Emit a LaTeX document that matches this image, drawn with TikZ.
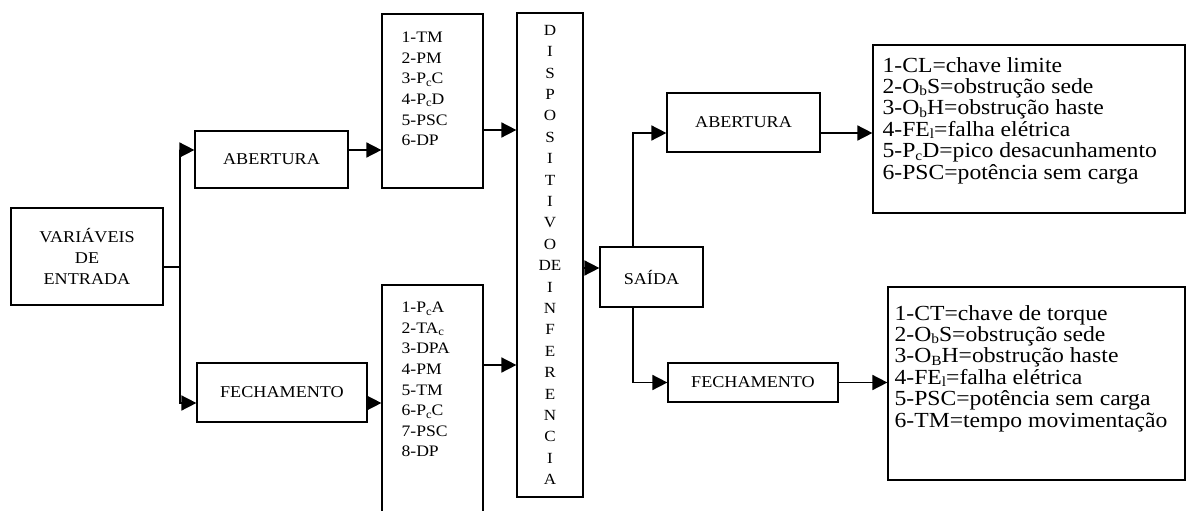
\documentclass[tikz,border=0pt]{standalone}
\usepackage{fontspec}
\setmainfont[FakeStretch=1.1]{Liberation Serif}
\usepackage{tikz}
\usetikzlibrary{positioning,arrows.meta}
\newcommand{\sbx}[2][11.5]{\raisebox{-2.5pt}{\fontsize{#1}{#1}\selectfont #2}}
\tikzset{
  blk/.style={draw, line width=1.2pt, inner sep=0pt, align=center, font=\fontsize{16.5}{21}\selectfont},
  lstbox/.style={draw, line width=1.2pt, inner sep=0pt},
  lsttxt/.style={inner sep=0pt, align=left, font=\fontsize{16}{20.6}\selectfont},
  outtxt/.style={inner sep=0pt, align=left, font=\fontsize{21.5}{21.4}\selectfont},
  inftxt/.style={inner sep=0pt, align=center, font=\fontsize{15.5}{21.4}\selectfont},
  arrow/.style={-{Triangle[length=15pt,width=15pt]}, line width=1.6pt},
  wire/.style={line width=1.6pt}
}

\begin{document}
\begin{tikzpicture}[x=1pt, y=-1pt]
  \useasboundingbox (0,0) rectangle (1188,511);
  % entrada e ramos
  \node[blk, minimum width=152pt, minimum height=97pt] (entrada) at (87,256.5) {VARIÁVEIS\\DE\\ENTRADA};
  \node[blk, minimum width=153pt, minimum height=57pt] (ab1) at (271.5,159.5) {ABERTURA};
  \node[blk, minimum width=170pt, minimum height=59pt] (fe1) at (282,392.5) {FECHAMENTO};
  % listas de variaveis
  \node[lstbox, minimum width=101pt, minimum height=174pt] (list1) at (432.5,101) {};
  \node[lstbox, minimum width=101pt, minimum height=236pt] (list2) at (432.5,403) {};
  \node[lsttxt, below right=18.5pt and 20pt of list1.north west] (list1txt)
    {1-TM\\2-PM\\3-P\sbx{c}C\\4-P\sbx{c}D\\5-PSC\\6-DP};
  \node[lsttxt, below right=17.5pt and 20pt of list2.north west] (list2txt)
    {1-P\sbx{c}A\\2-TA\sbx{c}\\3-DPA\\4-PM\\5-TM\\6-P\sbx{c}C\\7-PSC\\8-DP};
  % dispositivo de inferencia
  \node[lstbox, minimum width=66pt, minimum height=484pt] (inf) at (550,255) {};
  \node[inftxt] (inftxt) at (inf.center)
    {D\\I\\S\\P\\O\\S\\I\\T\\I\\V\\O\\DE\\I\\N\\F\\E\\R\\E\\N\\C\\I\\A};
  % saida
  \node[blk, minimum width=103pt, minimum height=60pt] (saida) at (651.5,277) {SAÍDA};
  \node[blk, minimum width=153pt, minimum height=59pt] (ab2) at (743.5,122.5) {ABERTURA};
  \node[blk, minimum width=170pt, minimum height=39pt] (fe2) at (753,382.5) {FECHAMENTO};
  \node[lstbox, minimum width=312pt, minimum height=168pt] (out1) at (1029,129) {};
  \node[lstbox, minimum width=297pt, minimum height=193pt] (out2) at (1036.5,383.5) {};
  \node[outtxt, below right=12.5pt and 10pt of out1.north west] (out1txt)
    {1-CL=chave limite\\2-O\sbx[14]{b}S=obstrução sede\\3-O\sbx[14]{b}H=obstrução haste\\
     4-FE\sbx[14]{l}=falha elétrica\\5-P\sbx[14]{c}D=pico desacunhamento\\6-PSC=potência sem carga};
  \node[outtxt, below right=18.5pt and 7pt of out2.north west] (out2txt)
    {1-CT=chave de torque\\2-O\sbx[14]{b}S=obstrução sede\\3-O\sbx[14]{B}H=obstrução haste\\
     4-FE\sbx[14]{l}=falha elétrica\\5-PSC=potência sem carga\\6-TM=tempo movimentação};
  % ligacoes
  \coordinate (split) at (180,267);
  \draw[wire] (entrada.east |- split) -- (split);
  \draw[arrow] (split) |- ([yshift=9.5pt]ab1.west);
  \draw[arrow] (split) |- ([yshift=-10.5pt]fe1.west);
  \draw[arrow] ([yshift=9.5pt]ab1.east) -- ([yshift=9.5pt]ab1.east -| list1.west);
  \draw[arrow] ([yshift=-10.5pt]fe1.east) -- ([yshift=-10.5pt]fe1.east -| list2.west);
  \draw[arrow] ([yshift=-29pt]list1.east) -- ([yshift=-29pt]list1.east -| inf.west);
  \draw[arrow] ([yshift=38pt]list2.east) -- ([yshift=38pt]list2.east -| inf.west);
  \draw[arrow] ([yshift=9pt]saida.west -| inf.east) -- ([yshift=9pt]saida.west);
  \draw[arrow] ([xshift=-18.5pt]saida.north) |- ([yshift=-10.5pt]ab2.west);
  \draw[arrow] ([xshift=-18.5pt]saida.south) |- (fe2.west);
  \draw[arrow] ([yshift=-10.5pt]ab2.east) -- ([yshift=-10.5pt]ab2.east -| out1.west);
  \draw[arrow] (fe2.east) -- (fe2.east -| out2.west);
\end{tikzpicture}
\end{document}
